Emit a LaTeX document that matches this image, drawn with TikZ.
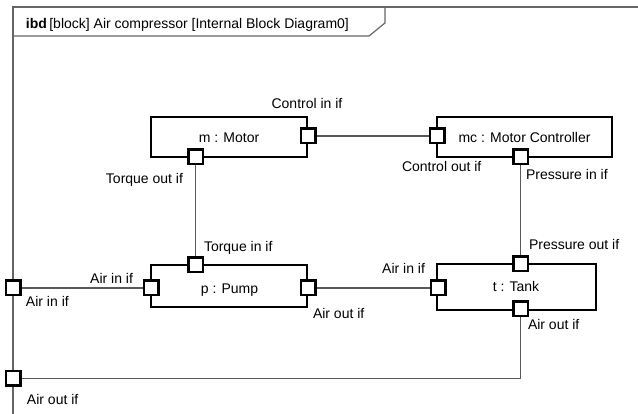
\documentclass[tikz,border=0pt]{standalone}
\usepackage{fontspec}
\setmainfont{Liberation Sans}
\begin{document}
\begin{tikzpicture}[x=1pt,y=-1pt,
  every node/.style={font=\fontsize{14pt}{16pt}\selectfont, inner sep=0pt, outer sep=0pt},
  blockbox/.style={draw=black, line width=2.5pt, fill=white, rectangle},
  portbox/.style={draw=black, line width=2.5pt, fill=white, rectangle, minimum size=14.5pt},
  conn/.style={draw=black!65, line width=1.3pt},
  framel/.style={draw=black!60, line width=1.2pt},
  lbl/.style={anchor=base west},
  lblr/.style={anchor=base east},
  lblc/.style={anchor=base}]
\useasboundingbox (0,0) rectangle (638,414);
% frame
\draw[framel] (13,414) -- (13,7) -- (638,7);
\draw[framel] (13,36) -- (369,36) -- (385,23) -- (385,7);
\node[lbl] (title) at (26,29) {\textbf{ibd}\,[block] Air compressor [Internal Block Diagram0]};
% blocks
\node[blockbox, minimum width=156pt, minimum height=40pt] (m) at (229,137) {};
\node[blockbox, minimum width=175pt, minimum height=40pt] (mc) at (524.5,137) {};
\node[blockbox, minimum width=156pt, minimum height=42pt] (p) at (229,286) {};
\node[blockbox, minimum width=159pt, minimum height=46pt] (t) at (516.5,287) {};
\node[lblc] (mname) at (229,143) {m : Motor};
\node[lblc] (mcname) at (524.5,143) {mc : Motor Controller};
\node[lblc] (pname) at (229.5,294) {p : Pump};
\node[lblc] (tname) at (516,292) {t : Tank};
% port positions
\coordinate (cmCi) at (308,136);
\coordinate (cmTo) at (195.5,157);
\coordinate (cmcCo) at (437,136);
\coordinate (cmcPi) at (520.5,157);
\coordinate (cpTi) at (195.5,265);
\coordinate (cpAi) at (151,288);
\coordinate (cpAo) at (308,288);
\coordinate (ctPo) at (520.5,264);
\coordinate (ctAi) at (438,288);
\coordinate (ctAo) at (520.5,309);
\coordinate (cfAi) at (13,288);
\coordinate (cfAo) at (13,378.5);
% connectors
\draw[conn] (cmCi) -- (cmcCo);
\draw[conn] (cmTo) -- (cpTi);
\draw[conn] (cmcPi) -- (ctPo);
\draw[conn] (cfAi) -- (cpAi);
\draw[conn] (cpAo) -- (ctAi);
\draw[conn] (ctAo) |- (cfAo);
% ports
\node[portbox] (mCi) at (cmCi) {};
\node[portbox] (mTo) at (cmTo) {};
\node[portbox] (mcCo) at (cmcCo) {};
\node[portbox] (mcPi) at (cmcPi) {};
\node[portbox] (pTi) at (cpTi) {};
\node[portbox] (pAi) at (cpAi) {};
\node[portbox] (pAo) at (cpAo) {};
\node[portbox] (tPo) at (ctPo) {};
\node[portbox] (tAi) at (ctAi) {};
\node[portbox] (tAo) at (ctAo) {};
\node[portbox] (fAi) at (cfAi) {};
\node[portbox] (fAo) at (cfAo) {};
% port labels
\node[lblc] (lmCi) at (307,109) {Control in if};
\node[lblr] (lmTo) at (183,184) {Torque out if};
\node[lbl] (lmcCo) at (402,172) {Control out if};
\node[lbl] (lmcPi) at (526,180) {Pressure in if};
\node[lbl] (lpTi) at (204,252) {Torque in if};
\node[lblr] (lpAi) at (133,284) {Air in if};
\node[lbl] (lfAi) at (26,307) {Air in if};
\node[lbl] (lpAo) at (313,319) {Air out if};
\node[lblr] (ltAi) at (425,274) {Air in if};
\node[lbl] (ltPo) at (529,250) {Pressure out if};
\node[lbl] (ltAo) at (528,330) {Air out if};
\node[lbl] (lfAo) at (27,405) {Air out if};
\end{tikzpicture}
\end{document}
